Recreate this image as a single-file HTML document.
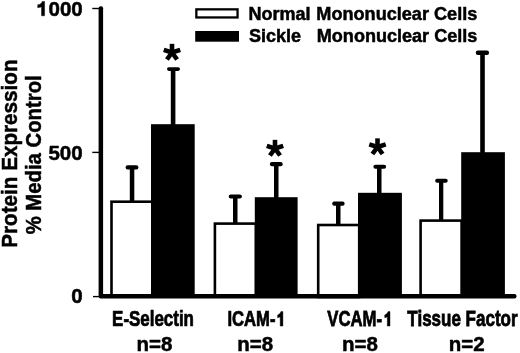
<!DOCTYPE html>
<html><head><meta charset="utf-8">
<style>
html,body{margin:0;padding:0;background:#fff;}
body{width:520px;height:353px;overflow:hidden;position:relative;}
svg{position:absolute;left:0;top:0;filter:blur(0.35px);}
text{font-family:"Liberation Sans",sans-serif;font-weight:bold;fill:#000;stroke:#000;stroke-width:0.5px;}
</style></head>
<body>
<svg width="520" height="353" viewBox="0 0 520 353">
  <text font-size="21.8" text-anchor="middle" transform="translate(16.9,153.6) rotate(-90) scale(0.948,1)">Protein Expression</text>
  <text font-size="21.8" text-anchor="middle" transform="translate(40.6,154.8) rotate(-90) scale(0.932,1)">% Media Control</text>

  <g fill="#000" stroke="#000" stroke-width="0.4">
    <path d="M41.50,15.80 L44.60,15.80 L44.60,1.40 L42.20,1.40 C41.80,3.00 40.10,4.58 37.70,4.78 L37.70,7.78 L41.50,6.88 Z"/>
  </g>
  <text font-size="20.5" x="48.5" y="15.8">000</text>
  <text font-size="20.5" text-anchor="end" x="82.7" y="159.6">500</text>
  <text font-size="20.5" text-anchor="end" x="82.7" y="303.1">0</text>

  <g stroke="#000" stroke-width="1.4">
    <line x1="92.3" y1="8.5" x2="100" y2="8.5"/>
    <line x1="92.3" y1="152.4" x2="100" y2="152.4"/>
    <line x1="93" y1="296.6" x2="100" y2="296.6"/>
  </g>

  <g fill="#fff" stroke="#000" stroke-width="2.6">
    <rect x="111.5" y="201.7" width="41" height="95"/>
    <rect x="214.9" y="223.6" width="41" height="73"/>
    <rect x="318.2" y="225.0" width="41" height="72"/>
    <rect x="420.6" y="220.6" width="41" height="76"/>
  </g>
  <g fill="#000">
    <rect x="151" y="124.2" width="43.7" height="172"/>
    <rect x="254.8" y="197.2" width="42.8" height="99"/>
    <rect x="358" y="192.8" width="43.9" height="104"/>
    <rect x="461.2" y="152.2" width="43.7" height="144"/>
  </g>

  <g fill="#000">
    <rect x="129.8" y="167" width="4.5" height="34"/>
    <rect x="125.6" y="165.3" width="12.8" height="4.1" rx="2"/>
    <rect x="170.8" y="69" width="4.6" height="56"/>
    <rect x="167" y="67.3" width="13" height="3.6" rx="1.8"/>
    <rect x="233" y="196" width="4.5" height="27"/>
    <rect x="228.7" y="194.5" width="13.2" height="4.1" rx="2"/>
    <rect x="274" y="164" width="4.5" height="34"/>
    <rect x="269.9" y="162" width="12.8" height="4.2" rx="2"/>
    <rect x="336" y="203" width="4.5" height="22"/>
    <rect x="332.2" y="201.6" width="12.4" height="4.2" rx="2"/>
    <rect x="377" y="166" width="4.5" height="27"/>
    <rect x="373.4" y="164.7" width="12.7" height="4" rx="2"/>
    <rect x="439" y="180" width="4.3" height="41"/>
    <rect x="435.2" y="178.8" width="12.5" height="3.9" rx="1.9"/>
    <rect x="480.2" y="52" width="4.6" height="101"/>
    <rect x="475.8" y="50.6" width="13.2" height="4.4" rx="2"/>
  </g>

  <rect x="98.6" y="6.3" width="4.5" height="292" fill="#000" rx="2"/>
  <rect x="99" y="294.1" width="417.5" height="4.5" fill="#000" rx="2"/>

  <g stroke="#000" stroke-width="4.6">
    <line x1="172.00" y1="52.50" x2="172.00" y2="43.85"/><line x1="172.00" y1="52.50" x2="180.23" y2="49.83"/><line x1="172.00" y1="52.50" x2="177.08" y2="59.50"/><line x1="172.00" y1="52.50" x2="166.92" y2="59.50"/><line x1="172.00" y1="52.50" x2="163.77" y2="49.83"/>
    <line x1="275.00" y1="148.50" x2="275.00" y2="139.85"/><line x1="275.00" y1="148.50" x2="283.23" y2="145.83"/><line x1="275.00" y1="148.50" x2="280.08" y2="155.50"/><line x1="275.00" y1="148.50" x2="269.92" y2="155.50"/><line x1="275.00" y1="148.50" x2="266.77" y2="145.83"/>
    <line x1="377.50" y1="147.00" x2="377.50" y2="138.35"/><line x1="377.50" y1="147.00" x2="385.73" y2="144.33"/><line x1="377.50" y1="147.00" x2="382.58" y2="154.00"/><line x1="377.50" y1="147.00" x2="372.42" y2="154.00"/><line x1="377.50" y1="147.00" x2="369.27" y2="144.33"/>
  </g>

  <rect x="196.35" y="9.35" width="41.2" height="8.1" fill="#fff" stroke="#000" stroke-width="2.3"/>
  <rect x="195.2" y="31" width="43.8" height="10.7" fill="#000"/>
  <text font-size="18" x="248.5" y="20.0">Normal</text>
  <text font-size="18" transform="translate(316.3,20.0) scale(1.007,1)">Mononuclear Cells</text>
  <text font-size="18" x="249.1" y="42.2">Sickle</text>
  <text font-size="18" transform="translate(316.8,42.3) scale(1.004,1)">Mononuclear Cells</text>

  <text font-size="21.3" style="stroke-width:0.75px" transform="translate(112.08,326.4) scale(0.7957,1)">E-Selectin</text>
  <text font-size="21.3" style="stroke-width:0.75px" transform="translate(227.40,326.4) scale(0.7825,1)">ICAM-</text>
  <text font-size="21.3" style="stroke-width:0.75px" transform="translate(327.30,326.4) scale(0.7854,1)">VCAM-</text>
  <text font-size="21.3" style="stroke-width:0.75px" transform="translate(407.33,326.4) scale(0.7987,1)">Tissue Factor</text>
  <g fill="#000" stroke="#000" stroke-width="0.4">
    <path d="M280.20,326.10 L282.90,326.10 L282.90,311.60 L280.90,311.60 C280.50,313.20 278.80,314.81 277.60,315.01 L277.60,317.81 L280.20,316.91 Z"/>
    <path d="M387.30,326.10 L390.00,326.10 L390.00,311.60 L388.00,311.60 C387.60,313.20 385.90,314.81 384.70,315.01 L384.70,317.81 L387.30,316.91 Z"/>
  </g>
  <g font-size="20.5" text-anchor="middle">
    <text x="154.5" y="351.3">n=8</text>
    <text x="255.3" y="351.3">n=8</text>
    <text x="360" y="351.3">n=8</text>
    <text x="466.7" y="351.3">n=2</text>
  </g>
</svg>
</body></html>
